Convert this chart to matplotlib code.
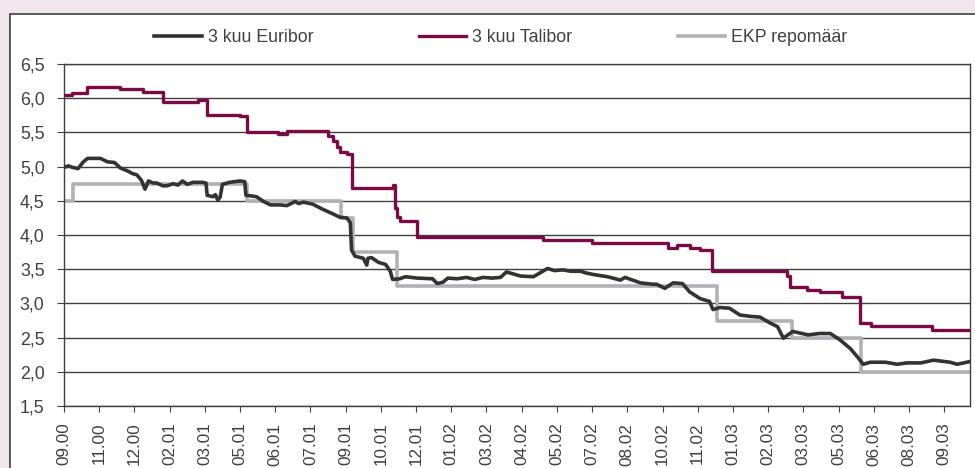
import numpy as np
import matplotlib.pyplot as plt
from matplotlib.patches import Rectangle

plt.rcParams['font.family'] = ['Liberation Sans', 'DejaVu Sans']

# x = index of trading day from start of 09.2000, one tick label every 30 days
tick_labels = ["09.00", "11.00", "12.00", "02.01", "03.01", "05.01", "06.01", "07.01",
               "09.01", "10.01", "12.01", "01.02", "03.02", "04.02", "05.02", "07.02",
               "08.02", "10.02", "11.02", "01.03", "02.03", "03.03", "05.03", "06.03",
               "08.03", "09.03"]
n_days = 772

# EKP repomaar (step changes)
ecb_day = [0, 8, 156, 236, 246, 284, 556, 620, 679, 772]
ecb_val = [4.50, 4.75, 4.50, 4.25, 3.75, 3.25, 2.75, 2.50, 2.00, 2.00]

# 3 kuu Talibor (step changes)
tal_day = [0, 7, 20, 48, 67, 84, 114, 122, 150, 156, 182, 190, 225, 229, 233, 235, 241,
           245, 280, 282, 284, 286, 301, 408, 450, 515, 522, 533, 542, 552, 616, 619,
           633, 644, 663, 678, 688, 740, 772]
tal_val = [6.05, 6.08, 6.17, 6.13, 6.09, 5.95, 5.98, 5.76, 5.74, 5.51, 5.47, 5.52, 5.45,
           5.38, 5.28, 5.22, 5.19, 4.68, 4.73, 4.40, 4.27, 4.21, 3.97, 3.93, 3.88, 3.81,
           3.85, 3.81, 3.78, 3.47, 3.40, 3.24, 3.20, 3.17, 3.09, 2.71, 2.67, 2.61, 2.61]

# 3 kuu Euribor
eur_day = [0, 4, 7, 12, 16, 20, 31, 37, 43, 48, 55, 58, 62, 66, 69, 72, 76, 79, 84, 88,
           93, 97, 101, 105, 110, 118, 121, 122, 127, 129, 131, 133, 135, 141, 150, 154,
           155, 160, 164, 170, 176, 184, 190, 197, 200, 204, 212, 220, 229, 235, 241, 244,
           245, 248, 255, 258, 259, 262, 268, 274, 278, 280, 286, 291, 301, 314, 318, 323,
           327, 335, 343, 350, 357, 365, 372, 377, 389, 400, 404, 412, 418, 425, 432, 440,
           446, 452, 463, 470, 474, 478, 488, 491, 502, 505, 512, 519, 527, 533, 542, 550,
           553, 559, 567, 576, 585, 593, 602, 608, 613, 616, 621, 634, 644, 653, 661, 670,
           676, 681, 687, 700, 710, 718, 730, 741, 755, 761, 772]
eur_val = [4.99, 5.01, 4.99, 4.97, 5.06, 5.12, 5.12, 5.07, 5.06, 4.98, 4.93, 4.90, 4.88,
           4.80, 4.67, 4.79, 4.76, 4.76, 4.72, 4.72, 4.75, 4.73, 4.79, 4.74, 4.77, 4.77,
           4.76, 4.58, 4.56, 4.59, 4.51, 4.55, 4.74, 4.77, 4.79, 4.78, 4.58, 4.57, 4.56,
           4.49, 4.44, 4.44, 4.43, 4.49, 4.46, 4.48, 4.45, 4.38, 4.31, 4.26, 4.25, 4.18,
           3.78, 3.69, 3.66, 3.56, 3.66, 3.67, 3.60, 3.57, 3.47, 3.35, 3.36, 3.39, 3.37,
           3.36, 3.29, 3.31, 3.37, 3.36, 3.38, 3.35, 3.38, 3.37, 3.38, 3.46, 3.40, 3.39,
           3.43, 3.51, 3.48, 3.49, 3.47, 3.47, 3.44, 3.42, 3.39, 3.36, 3.34, 3.38, 3.32,
           3.30, 3.28, 3.28, 3.22, 3.30, 3.29, 3.17, 3.07, 3.03, 2.91, 2.94, 2.93, 2.83,
           2.81, 2.80, 2.71, 2.66, 2.49, 2.53, 2.59, 2.54, 2.56, 2.56, 2.47, 2.34, 2.22,
           2.11, 2.14, 2.14, 2.11, 2.13, 2.13, 2.17, 2.14, 2.11, 2.15]

fig = plt.figure(figsize=(9.75, 4.68), dpi=100)
fig.patch.set_facecolor('#f2e6ed')
fig.patches.append(Rectangle((10 / 975, -0.1), 1.2, 1 - 14 / 468 + 0.1,
                             transform=fig.transFigure, facecolor='white',
                             edgecolor='#404040', linewidth=1.2, zorder=-5))

ax = fig.add_axes([64 / 975, 1 - 406 / 468, 906 / 975, 342 / 468])
ax.set_facecolor('white')

l1, = ax.plot(eur_day, eur_val, color='#333333', lw=2.6, label='3 kuu Euribor', zorder=4)
l2, = ax.step(tal_day, tal_val, where='post', color='#7a0a46', lw=2.4,
              label='3 kuu Talibor', zorder=3)
l3, = ax.step(ecb_day, ecb_val, where='post', color='#b2b2b6', lw=2.6,
              label='EKP repomäär', zorder=2)

ax.set_xlim(0, n_days)
ax.set_ylim(1.5, 6.5)
yt = np.arange(1.5, 6.51, 0.5)
ax.set_yticks(yt)
ax.set_yticklabels([f"{v:.1f}".replace('.', ',') for v in yt])
ax.set_xticks(np.arange(len(tick_labels)) * 30)
ax.set_xticklabels(tick_labels, rotation=90, va='top', ha='center')

ax.grid(axis='y', color='#404040', lw=1)
ax.set_axisbelow(True)
for s in ax.spines.values():
    s.set_color('#404040')
    s.set_linewidth(1)
ax.tick_params(axis='both', colors='#404040', labelcolor='#404040')
ax.tick_params(axis='y', length=5, pad=9, labelsize=12.8)
ax.tick_params(axis='x', length=4, pad=8, labelsize=12.3)

fig.legend(handles=[l1, l2, l3], loc='center', bbox_to_anchor=(501 / 975, 1 - 38 / 468),
           ncol=3, frameon=False, fontsize=12.8, handlelength=2.65, handletextpad=0.34,
           columnspacing=5.95, labelcolor='#404040')

fig.savefig('out.png', dpi=100, facecolor=fig.get_facecolor())
